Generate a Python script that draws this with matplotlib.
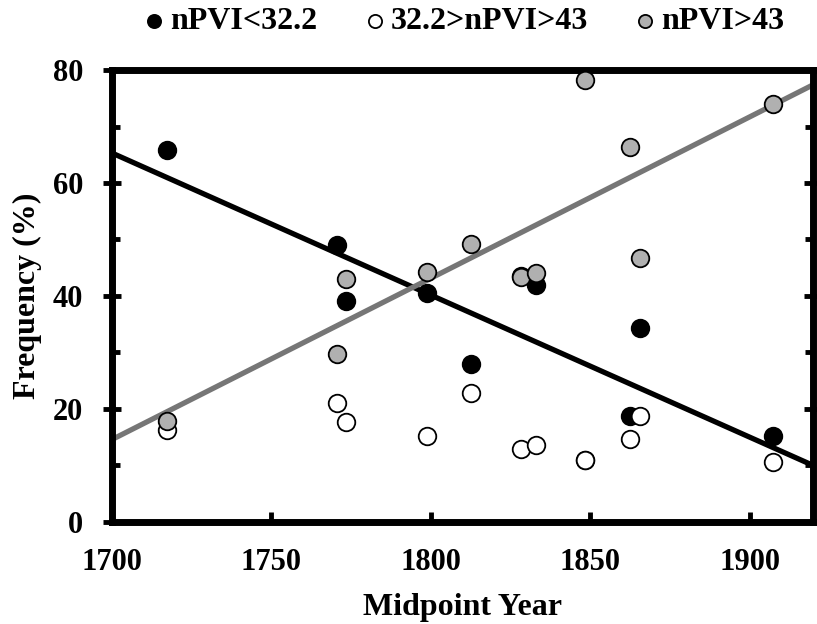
import numpy as np
import matplotlib
matplotlib.use("Agg")
import matplotlib.pyplot as plt
from matplotlib.ticker import MultipleLocator

plt.rcParams['font.family'] = ['Liberation Serif', 'DejaVu Serif']
plt.rcParams['font.weight'] = 'bold'

years = [1717.4, 1770.5, 1773.5, 1798.9, 1812.7, 1828.3, 1833.2, 1848.3, 1862.6, 1865.5, 1907.2]
low = [65.9, 49.0, 39.1, 40.5, 27.9, 43.6, 41.9, 10.9, 18.7, 34.4, 15.2]      # nPVI<32.2
mid = [16.2, 21.1, 17.7, 15.3, 22.8, 13.0, 13.7, 10.9, 14.6, 18.7, 10.7]      # 32.2>nPVI>43
high = [17.9, 29.8, 43.0, 44.2, 49.2, 43.4, 44.0, 78.2, 66.3, 46.7, 74.0]     # nPVI>43

labels = ['nPVI<32.2', '32.2>nPVI>43', 'nPVI>43']

fig = plt.figure(figsize=(8.17, 6.24), dpi=100)
ax = fig.add_axes([0.1367, 0.1635, 0.8588, 0.7243])

x = np.array(years)
xl = np.array([1700, 1920])
for vals, col in [(low, 'black'), (high, '#767676')]:
    b, a = np.polyfit(x, np.array(vals), 1)
    ax.plot(xl, a + b * xl, color=col, lw=3.8, zorder=2, solid_capstyle='butt')

ax.scatter(years, low, s=160, c='black', edgecolors='black', linewidths=1.3, zorder=3, label=labels[0])
ax.scatter(years, mid, s=160, c='white', edgecolors='black', linewidths=1.3, zorder=4, label=labels[1])
ax.scatter(years, high, s=160, c='#b0b0b0', edgecolors='black', linewidths=1.3, zorder=5, label=labels[2])

ax.set_xlim(1700, 1920)
ax.set_ylim(0, 80)
ax.xaxis.set_major_locator(MultipleLocator(50))
ax.yaxis.set_major_locator(MultipleLocator(20))
ax.yaxis.set_minor_locator(MultipleLocator(10))
for s in ax.spines.values():
    s.set_linewidth(5)
ax.tick_params(axis='y', which='major', direction='inout', length=13, width=3.5, labelsize=22, right=True, pad=14)
ax.tick_params(axis='y', which='minor', direction='in', length=6, width=3.5, right=True)
ax.tick_params(axis='x', which='major', direction='in', length=7, width=3.5, labelsize=22, top=False, pad=19)
for lab in ax.get_xticklabels() + ax.get_yticklabels():
    lab.set_fontweight('bold')

ax.set_xlabel('Midpoint Year', fontsize=23, fontweight='bold', labelpad=11)
ax.set_ylabel('Frequency (%)', fontsize=23, fontweight='bold', labelpad=8)

leg = ax.legend(loc='center', bbox_to_anchor=(0.496, 1.107), ncol=3, frameon=False,
                fontsize=23, markerscale=0.75, handletextpad=-0.1, columnspacing=1.2,
                borderaxespad=0.0, handlelength=1.2)
for t in leg.get_texts():
    t.set_fontweight('bold')

fig.savefig('out.png', dpi=100)
